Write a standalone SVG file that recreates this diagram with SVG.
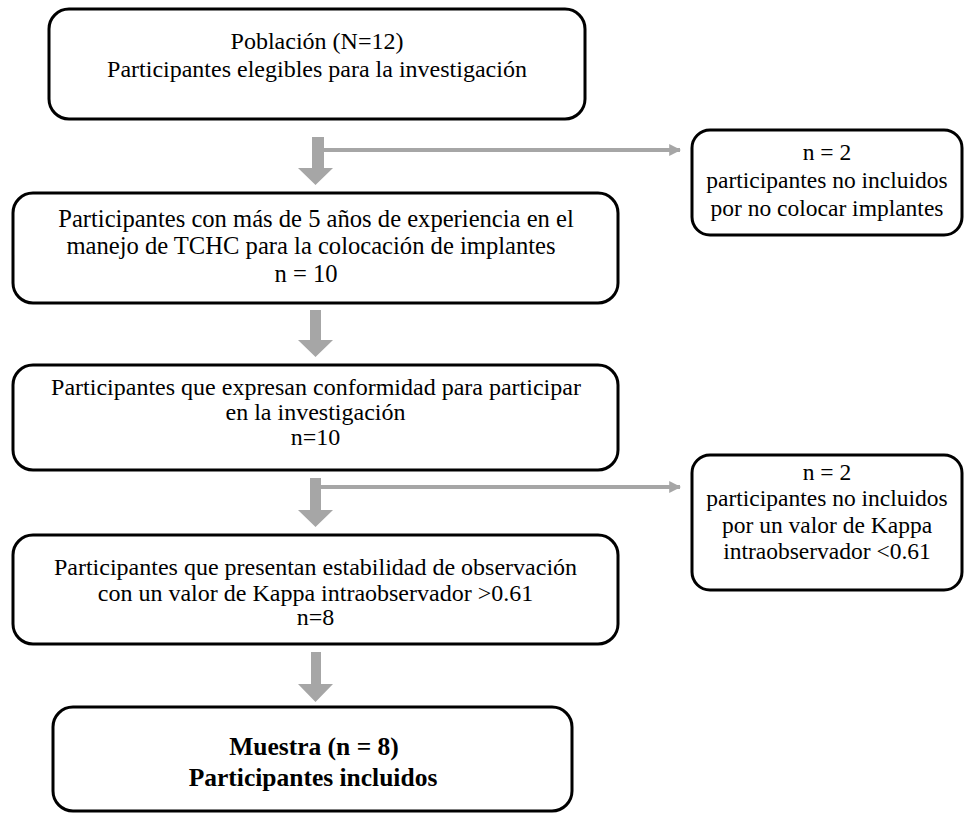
<svg xmlns="http://www.w3.org/2000/svg" width="965" height="817" viewBox="0 0 965 817">
<defs>
<style>
.box{fill:#fff;stroke:#000;stroke-width:3}
.blk{fill:#A6A6A6;stroke:none}
.ln{stroke:#A6A6A6;stroke-width:4;fill:none}
</style>
<marker id="ah" viewBox="0 0 10 10" refX="9" refY="5" markerWidth="3" markerHeight="3" orient="auto" markerUnits="strokeWidth">
<path d="M0,0 L10,5 L0,10 z" fill="#A6A6A6"/>
</marker>
</defs>
<rect width="965" height="817" fill="#fff"/>
<g id="connectors">
<path class="blk" d="M312,137 H324 V168 H333 L315.5,185 L298,168 H312 Z"/>
<line class="ln" x1="324" y1="150" x2="680" y2="150" marker-end="url(#ah)"/>
<path class="blk" d="M310,310 H321 V340 H333 L315.5,357 L298,340 H310 Z"/>
<path class="blk" d="M310,478 H321 V510 H333 L315.5,527 L298,510 H310 Z"/>
<line class="ln" x1="321" y1="487" x2="680" y2="487" marker-end="url(#ah)"/>
<path class="blk" d="M311,652 H321 V684 H333 L315.5,702 L298,684 H311 Z"/>
</g>
<g font-family="Liberation Serif, Times New Roman, serif" font-size="24" fill="#000" text-anchor="middle">
<g id="n1">
<rect class="box" x="49" y="9" width="536" height="110" rx="20"/>
<text x="317" y="49">Población (N=12)</text>
<text x="317" y="77">Participantes elegibles para la investigación</text>
</g>
<g id="s1">
<rect class="box" x="692" y="130" width="270" height="105" rx="18"/>
<text x="827" y="160" font-size="23.5">n = 2</text>
<text x="827" y="188" font-size="23.5">participantes no incluidos</text>
<text x="827" y="216" font-size="23.5">por no colocar implantes</text>
</g>
<g id="n2">
<rect class="box" x="13" y="193" width="605" height="110" rx="20"/>
<text x="316" y="227" font-size="24.6">Participantes con más de 5 años de experiencia en el</text>
<text x="311" y="254" font-size="24.6">manejo de TCHC para la colocación de implantes</text>
<text x="306" y="282" font-size="24.6">n = 10</text>
</g>
<g id="n3">
<rect class="box" x="13" y="365" width="605" height="105" rx="20"/>
<text x="316" y="395">Participantes que expresan conformidad para participar</text>
<text x="315.5" y="420">en la investigación</text>
<text x="315.5" y="445">n=10</text>
</g>
<g id="s2">
<rect class="box" x="692" y="455" width="270" height="135" rx="18"/>
<text x="827" y="480" font-size="23.5">n = 2</text>
<text x="827" y="506" font-size="23.5">participantes no incluidos</text>
<text x="827" y="533" font-size="23.5">por un valor de Kappa</text>
<text x="827" y="559" font-size="23.5">intraobservador &lt;0.61</text>
</g>
<g id="n4">
<rect class="box" x="13" y="535" width="605" height="109" rx="20"/>
<text x="315.5" y="575">Participantes que presentan estabilidad de observación</text>
<text x="315.5" y="601">con un valor de Kappa intraobservador &gt;0.61</text>
<text x="315.5" y="625">n=8</text>
</g>
<g id="n5">
<rect class="box" x="53" y="707" width="519" height="104" rx="20"/>
<text x="314" y="755" font-size="25.5" font-weight="bold">Muestra (n = 8)</text>
<text x="313" y="786" font-size="25.5" font-weight="bold">Participantes incluidos</text>
</g>
</g>
</svg>
